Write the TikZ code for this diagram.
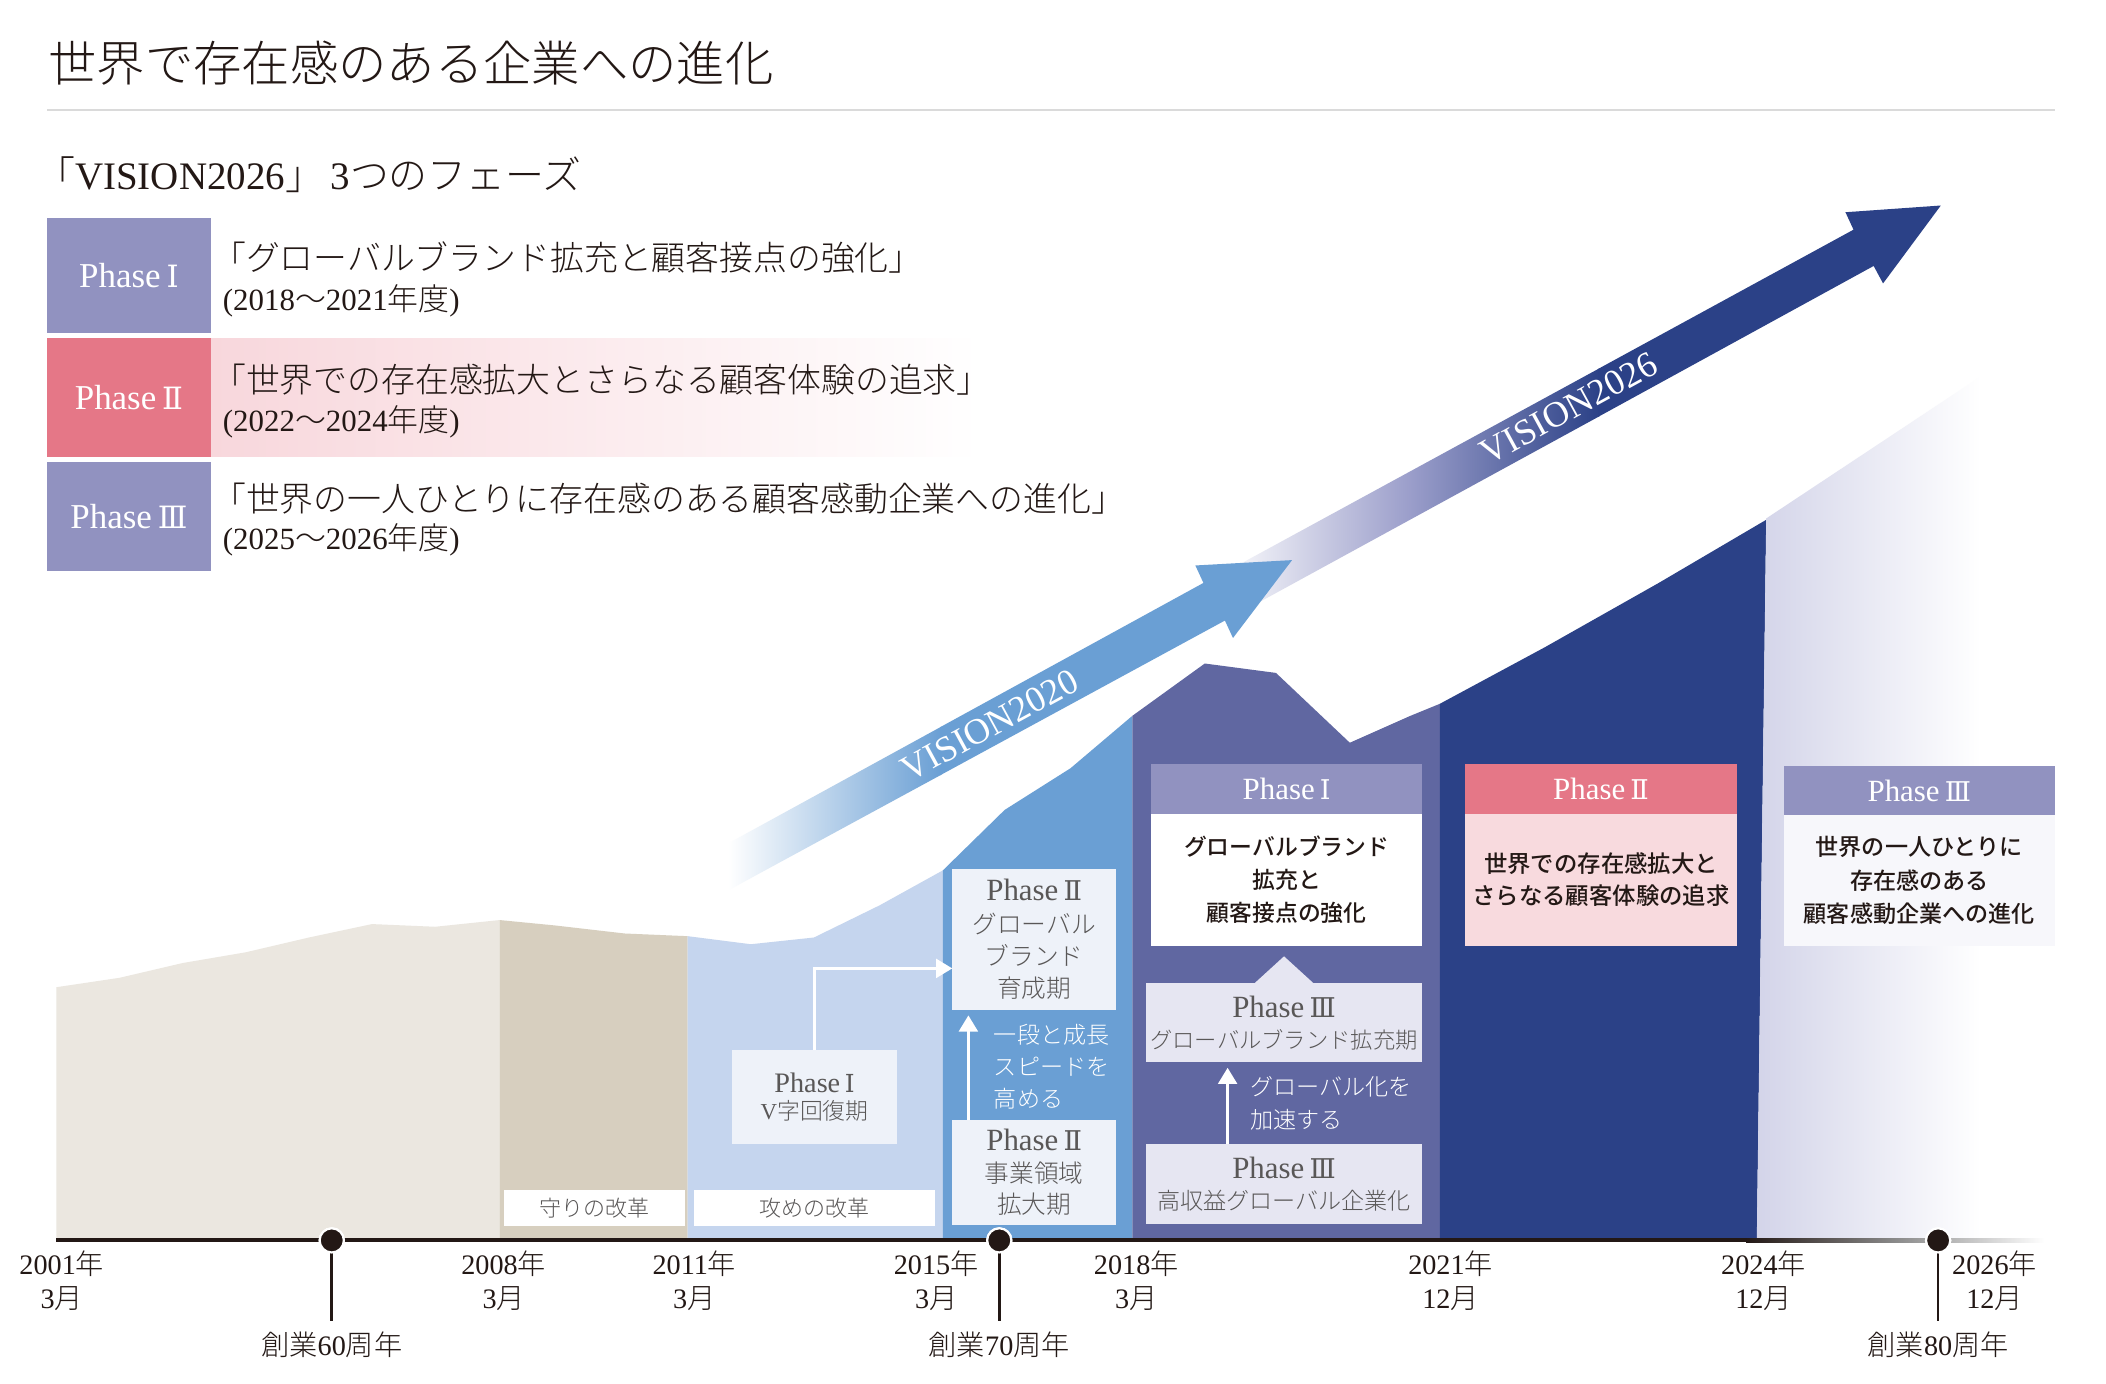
\documentclass[tikz,border=0pt]{standalone}
\usepackage{fontspec}
\setmainfont{Liberation Serif}
\IfFontExistsTF{Noto Sans CJK JP Light}{\newfontfamily\jp{Noto Sans CJK JP Light}}{\newfontfamily\jp{Noto Sans CJK JP}}
\IfFontExistsTF{Noto Sans CJK JP Medium}{\newfontfamily\jpm{Noto Sans CJK JP Medium}}{\newfontfamily\jpm{Noto Sans CJK JP}}
\newfontfamily\dvs{DejaVu Serif}[Scale=0.88]
\usetikzlibrary{arrows.meta}
\definecolor{txt}{HTML}{231815}
\definecolor{gtxt}{HTML}{595757}
\definecolor{rulec}{HTML}{DADADA}
\definecolor{beige}{HTML}{EBE7E0}
\definecolor{tanc}{HTML}{D7CFBF}
\definecolor{lblue}{HTML}{C5D5EE}
\definecolor{mblue}{HTML}{6A9FD4}
\definecolor{purp}{HTML}{6067A1}
\definecolor{navy}{HTML}{2B4187}
\definecolor{lav}{HTML}{D3D4E9}
\definecolor{plav}{HTML}{9192C0}
\definecolor{ppink}{HTML}{E57787}
\definecolor{pinkl}{HTML}{F8D7DC}
\definecolor{pinkb}{HTML}{F8DADE}
\definecolor{boxb}{HTML}{EEF2F9}
\definecolor{boxp}{HTML}{E6E6F2}
\definecolor{boxw}{HTML}{F7F7FB}
\definecolor{midnavy}{HTML}{9C9FCB}
\definecolor{axgrey}{HTML}{8A8A8A}
\newcommand{\J}[1]{{\jp #1}}
\newcommand{\fs}[2]{\fontsize{#1}{#2}\selectfont}
\newcommand{\RN}[1]{{\dvs\iffontchar\font`#1 #1\else\jp #1\fi}}
\newcommand{\PhN}[1]{{\rmfamily Phase}\,\RN{#1}}
\newcommand{\PhS}[2]{{\fs{#1}{#1}\PhN{#2}}}
\tikzset{
  qt/.style={anchor=west, text=txt, font=\jp\fs{12.6pt}{14pt}},
  yrs/.style={anchor=west, text=txt, font=\fs{11.5pt}{12pt}},
  phl/.style={text=white, font=\fs{13pt}{14pt}, minimum width=61pt},
  hdr/.style={text=white, font=\fs{11.5pt}{12pt}, minimum width=101pt, minimum height=18.5pt},
  lbox/.style={fill=boxb, text=gtxt, align=center},
  pbox/.style={fill=boxp, text=gtxt, align=center},
  wbox/.style={fill=white, text=gtxt, font=\jp\fs{8.2pt}{10pt}, minimum height=13.5pt},
  bbody/.style={text=txt, align=center, minimum width=101pt, minimum height=49pt},
  yr/.style={text=txt, align=center, font=\fs{10.5pt}{12.5pt}},
  ann/.style={text=txt, font=\fs{10.5pt}{12pt}},
  dot/.style={circle, fill=txt, draw=white, line width=0.8pt, minimum size=9pt, inner sep=0pt},
  stem/.style={draw=txt, line width=1pt},
  wconn/.style={draw=white, line width=1pt, -{Triangle[width=7pt,length=6pt]}},
  wtxt/.style={text=white, align=left, anchor=west, font=\jp\fs{8.6pt}{12pt}},
  vis/.style={text=white, font=\fs{13.5pt}{13pt}},
}
\begin{document}
\begin{tikzpicture}[x=0.5pt,y=-0.5pt, every node/.append style={inner sep=0pt, outer sep=0pt}]
\useasboundingbox (0,0) rectangle (1568,1030);
\fill[white] (0,0) rectangle (1568,1030);

% ---------- title ----------
\node[anchor=west, text=txt, font=\jp\fs{18pt}{20pt}] (title) at (36,47) {世界で存在感のある企業への進化};
\draw[rulec, line width=0.8pt] (35,82) -- (1530,82);
\node[anchor=west, text=txt, font=\fs{14.5pt}{15pt}] (sub) at (27,130) {\J{「}VISION2026\J{」}\,3\J{つのフェーズ}};

% ---------- phase list ----------
\shade[left color=pinkl, right color=white] (157,252) rectangle (730,340);
\node[fill=plav, phl, minimum height=43pt] (p1) at (96,205) {\PhN{Ⅰ}};
\node[fill=ppink, phl, minimum height=44pt] (p2) at (96,296) {\PhN{Ⅱ}};
\node[fill=plav, phl, minimum height=40.5pt] (p3) at (96,384.5) {\PhN{Ⅲ}};
\node[qt] (q1) at (158,192) {「グローバルブランド拡充と顧客接点の強化」};
\node[yrs] (y1) at (166,224) {(2018\J{～}2021\J{年度})};
\node[qt] (q2) at (158,283) {「世界での存在感拡大とさらなる顧客体験の追求」};
\node[yrs] (y2) at (166,314) {(2022\J{～}2024\J{年度})};
\node[qt] (q3) at (158,371) {「世界の一人ひとりに存在感のある顧客感動企業への進化」};
\node[yrs] (y3) at (166,402) {(2025\J{～}2026\J{年度})};

% ---------- areas ----------
\fill[beige] (42,924) -- (42,735) -- (89,728) -- (136,717) -- (183,709) -- (230,698) -- (277,688) -- (324,690) -- (372,685) -- (372,924) -- cycle;
\fill[tanc] (372,924) -- (372,685) -- (413,689) -- (465,695) -- (512,697) -- (512,924) -- cycle;
\fill[lblue] (512,924) -- (512,697) -- (559,703) -- (606,698) -- (655,674) -- (702,648) -- (702,924) -- cycle;
\fill[mblue] (702,924) -- (702,648) -- (748,603) -- (797,572) -- (843,533) -- (843,924) -- cycle;
\fill[purp] (843,924) -- (843,533) -- (897,494) -- (950,501) -- (1005,553) -- (1050,533) -- (1072,524) -- (1072,924) -- cycle;
\fill[navy] (1072,924) -- (1072,524) -- (1150,482) -- (1235,434) -- (1315,387) -- (1308,924) -- cycle;
\shade[left color=lav, right color=white] (1308,924) -- (1315,386) -- (1395,333) -- (1475,280) -- (1475,924) -- cycle;

% ---------- arrows ----------
\shade[left color=white, right color=navy, middle color=midnavy] (905,429.9) -- (1191,274.1) -- (1191,309.8) -- (905,466.1) -- cycle;
\fill[navy] (1190,274.6) -- (1380,171) -- (1374,158) -- (1445,153) -- (1402,211) -- (1395,198) -- (1190,310.3) -- cycle;
\shade[left color=white, right color=mblue] (542,628) -- (701,540.9) -- (701,576.7) -- (542,663) -- cycle;
\fill[mblue] (700,541.4) -- (896,434) -- (890,421) -- (962,417) -- (918,475) -- (912,462) -- (700,577.2) -- cycle;
\node[vis, rotate=28.6] (v2020) at (737,540) {VISION2020};
\node[vis, rotate=28.7] (v2026) at (1168,304) {VISION2026};

% ---------- boxes in chart ----------
\node[wbox, minimum width=67.5pt] (mamori) at (442.5,899.5) {守りの改革};
\node[wbox, minimum width=89.5pt] (seme) at (606.5,899.5) {攻めの改革};
\node[lbox, minimum width=61.5pt, minimum height=35pt, font=\fs{8.5pt}{10pt}] (vji) at (606.5,817) {\PhS{10.5pt}{Ⅰ}\\V\J{字回復期}};
\node[lbox, minimum width=61pt, minimum height=52.5pt, font=\fs{9.2pt}{12pt}] (ik) at (770,699.5) {\PhS{11.5pt}{Ⅱ}\\\J{グローバル}\\\J{ブランド}\\\J{育成期}};
\node[lbox, minimum width=61pt, minimum height=39pt, font=\fs{9.2pt}{11.7pt}] (kd) at (770,873) {\PhS{11.5pt}{Ⅱ}\\\J{事業領域}\\\J{拡大期}};
\coordinate (c1) at (700,721);
\draw[wconn] (vji.north) |- (ik.west |- c1);
\coordinate (a1) at (721,834);
\draw[wconn, shorten >=2pt] (a1) -- (a1 |- ik.south);
\node[wtxt] (t1) at (740,794) {一段と成長\\スピードを\\高める};

\node[hdr, fill=plav] (h1) at (958,587.5) {\PhN{Ⅰ}};
\node[bbody, fill=white, font=\jpm\fs{8.5pt}{12.25pt}] (b1) at (958,655) {グローバルブランド\\拡充と\\顧客接点の強化};
\fill[boxp] (933,733) -- (956,712) -- (979,733) -- cycle;
\node[pbox, minimum width=103pt, minimum height=29.5pt, font=\fs{8.6pt}{11.5pt}] (g3) at (956,761.5) {\PhS{11.5pt}{Ⅲ}\\\J{\fs{8.3pt}{11.5pt}グローバルブランド拡充期}};
\node[pbox, minimum width=103pt, minimum height=29.5pt, font=\fs{8.6pt}{11.5pt}] (k3) at (956,881.5) {\PhS{11.5pt}{Ⅲ}\\\J{高収益グローバル企業化}};
\coordinate (a2) at (914,852);
\draw[wconn, shorten >=2pt] (a2) -- (a2 |- g3.south);
\node[wtxt] (t2) at (931,821.5) {グローバル化を\\加速する};

\node[hdr, fill=ppink] (h2) at (1192,587.5) {\PhN{Ⅱ}};
\node[bbody, fill=pinkb, font=\jpm\fs{8.7pt}{12pt}] (b2) at (1192,655) {世界での存在感拡大と\\さらなる顧客体験の追求};
\node[hdr, fill=plav] (h3) at (1429,588.5) {\PhN{Ⅲ}};
\node[bbody, fill=boxw, minimum height=48.5pt, font=\jpm\fs{8.6pt}{12.5pt}] (b3) at (1429,655.5) {世界の一人ひとりに\\存在感のある\\顧客感動企業への進化};

% ---------- timeline ----------
\coordinate (ax0) at (42,923.5);
\coordinate (ax1) at (1300,923.5);
\draw[txt, line width=1.5pt] (ax0) -- (ax1);
\shade[left color=txt, right color=white, middle color=axgrey] (1300,922) rectangle (1522,925);

\node[yr] (y2001) at (46,953.5) {2001\J{年}\\3\J{月}};
\node[yr] (y2008) at (375,953.5) {2008\J{年}\\3\J{月}};
\node[yr] (y2011) at (517,953.5) {2011\J{年}\\3\J{月}};
\node[yr] (y2015) at (697,953.5) {2015\J{年}\\3\J{月}};
\node[yr] (y2018) at (846,953.5) {2018\J{年}\\3\J{月}};
\node[yr] (y2021) at (1080,953.5) {2021\J{年}\\12\J{月}};
\node[yr] (y2024) at (1313,953.5) {2024\J{年}\\12\J{月}};
\node[yr] (y2026) at (1485,953.5) {2026\J{年}\\12\J{月}};

\node[ann] (l60) at (247,1001) {\J{創業}60\J{周年}};
\node[ann] (l70) at (744,1001) {\J{創業}70\J{周年}};
\node[ann] (l80) at (1443,1001) {\J{創業}80\J{周年}};
\node[dot] (d60) at (247,923.5) {};
\node[dot] (d70) at (744,923.5) {};
\node[dot] (d80) at (1443,923.5) {};
\draw[stem, shorten >=4pt] (d60.center) -- (l60.north);
\draw[stem, shorten >=4pt] (d70.center) -- (l70.north);
\draw[stem, shorten >=4pt] (d80.center) -- (l80.north);
\node[dot] at (d60) {};
\node[dot] at (d70) {};
\node[dot] at (d80) {};
\end{tikzpicture}
\end{document}
